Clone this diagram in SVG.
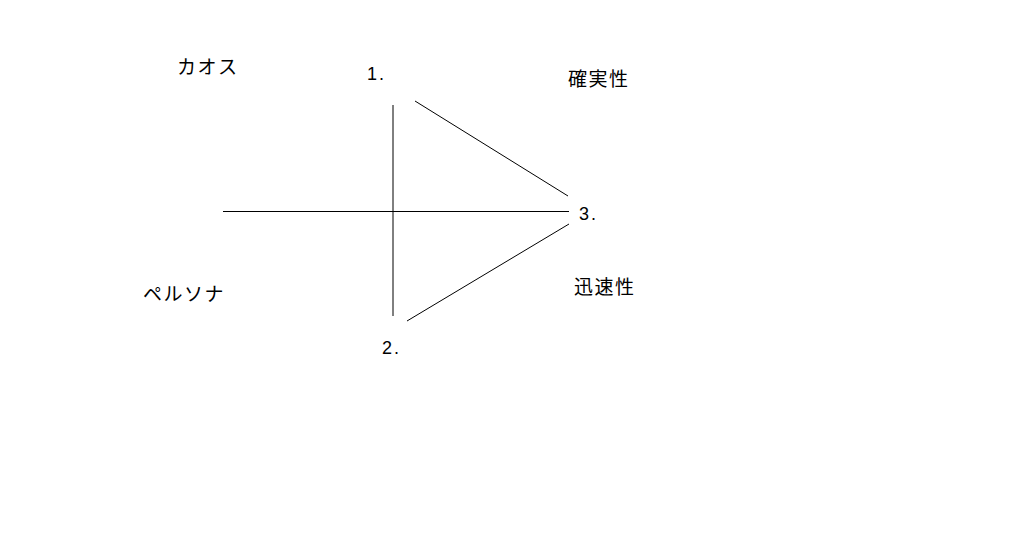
<svg xmlns="http://www.w3.org/2000/svg" width="1018" height="552" viewBox="0 0 1018 552">
<style>
.t{font-family:"Liberation Sans","Noto Sans CJK JP",sans-serif;font-size:18px;fill:#000;letter-spacing:2px}
.j{font-family:"Noto Sans CJK JP","Liberation Sans",sans-serif;font-size:19px;fill:#000;letter-spacing:1.5px}
.c{stroke:#000;stroke-width:1;fill:none}
</style>
<rect width="1018" height="552" fill="#fff"/>
<g id="connectors">
<line class="c" x1="393" y1="105" x2="393" y2="316"/>
<line class="c" x1="223" y1="211.5" x2="569" y2="211.5"/>
<line class="c" x1="415" y1="101" x2="568" y2="196"/>
<line class="c" x1="407" y1="321" x2="569" y2="224"/>
</g>
<g id="node-1"><text class="t" x="367" y="80">1.</text></g>
<g id="node-2"><text class="t" x="382" y="354">2.</text></g>
<g id="node-3"><text class="t" x="579" y="220">3.</text></g>
<g id="label-chaos"><text class="j" x="177" y="74">カオス</text></g>
<g id="label-certainty"><text class="j" x="568" y="86">確実性</text></g>
<g id="label-speed"><text class="j" x="574" y="294">迅速性</text></g>
<g id="label-persona"><text class="j" x="143" y="301">ペルソナ</text></g>
</svg>
